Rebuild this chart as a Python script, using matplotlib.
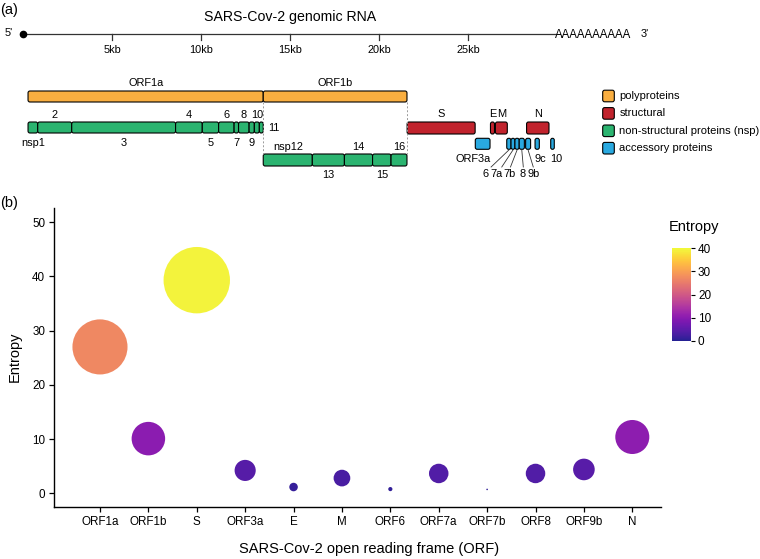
#Bibliotecas
import matplotlib.pyplot as plt
import matplotlib.transforms as mtransforms
from matplotlib.patches import FancyBboxPatch
from matplotlib.colors import Normalize
import numpy as np

plt.rcParams['font.family'] = ['Liberation Sans', 'DejaVu Sans']

W, H = 760, 559
X0 = 23.3     # coluna (px) da posicao 0 do genoma
PPK = 17.8    # px por kb

#Dados do genoma (kb)
genome_len = 29.903
genome_ticks = [5, 10, 15, 20, 25]

poly_names = ['ORF1a', 'ORF1b']
poly_bounds = [0.266, 13.48, 21.555]

nsp_a_names = ['nsp1', '2', '3', '4', '5', '6', '7', '8', '9', '10', '11']
nsp_a_bounds = [0.266, 0.81, 2.72, 8.555, 10.055, 10.973, 11.843, 12.092,
                12.686, 12.98, 13.26, 13.48]
nsp_b_names = ['nsp12', '13', '14', '15', '16']
nsp_b_bounds = [13.48, 16.237, 18.04, 19.621, 20.659, 21.555]

struct_names = ['S', 'E', 'M', 'N']
struct_start = [21.563, 26.245, 26.523, 28.274]
struct_end = [25.384, 26.472, 27.191, 29.533]

acc_names = ['ORF3a', '6', '7a', '7b', '8', '9b', '9c', '10']
acc_start = [25.393, 27.16, 27.40, 27.62, 27.86, 28.22, 28.75, 29.63]
acc_end = [26.22, 27.40, 27.62, 27.86, 28.15, 28.50, 28.99, 29.83]

#Dados de entropia
orfs = ['ORF1a', 'ORF1b', 'S', 'ORF3a', 'E', 'M', 'ORF6', 'ORF7a', 'ORF7b',
        'ORF8', 'ORF9b', 'N']
entropy = [27.0, 10.1, 39.3, 4.24, 1.18, 2.83, 0.80, 3.68, 0.74, 3.68, 4.42, 10.4]

#Cores
c_poly = '#F9AE40'
c_struct = '#C1232D'
c_nsp = '#2BB470'
c_acc = '#29A9E0'

fig = plt.figure(figsize=(W / 100, H / 100), dpi=100)
PX = mtransforms.Affine2D().scale(1 / W, -1 / H).translate(0, 1) + fig.transFigure

#Eixo do painel (a): x em kb, y em pixels
ag = fig.add_axes([0, 0, 1, 1])
ag.set_xlim(-X0 / PPK, (W - X0) / PPK)
ag.set_ylim(H, 0)
ag.axis('off')


def caixa(x0, x1, y0, h, cor):
    w = x1 - x0
    r = min(0.11, w / 2)
    ag.add_patch(FancyBboxPatch((x0, y0), w, h,
                                boxstyle=f'round,pad=0,rounding_size={r}',
                                mutation_aspect=PPK, fc=cor, ec='black', lw=0.8))


fs = 7.9
#Linha do genoma
ag.plot([0, genome_len], [34, 34], color='#333333', lw=0.9)
ag.plot([0], [34], 'o', color='black', ms=4.5)
for t in genome_ticks:
    ag.plot([t, t], [34, 40], color='#333333', lw=0.9)
    ag.text(t, 50, f'{t}kb', ha='center', va='center', fontsize=fs)
ag.text(15, 17, 'SARS-Cov-2 genomic RNA', ha='center', va='center', fontsize=10.2)
fig.text(555, 35.5, 'AAAAAAAAAA', transform=PX, ha='left', va='center', fontsize=8.3)
fig.text(641, 34, "3'", transform=PX, ha='left', va='center', fontsize=fs)
fig.text(5, 33, "5'", transform=PX, ha='left', va='center', fontsize=fs)
fig.text(0, 10, '(a)', transform=PX, ha='left', va='center', fontsize=10.5)
fig.text(0, 203, '(b)', transform=PX, ha='left', va='center', fontsize=10.5)

#Poliproteinas
for i, nome in enumerate(poly_names):
    a, b = poly_bounds[i], poly_bounds[i + 1]
    caixa(a, b, 91, 11, c_poly)
    ag.text((a + b) / 2, 83, nome, ha='center', va='center', fontsize=fs)

#nsp linha 1
for i, nome in enumerate(nsp_a_names):
    a, b = nsp_a_bounds[i], nsp_a_bounds[i + 1]
    caixa(a, b, 122, 11, c_nsp)
    if nome == '11':
        ag.text(b + 0.25, 128, nome, ha='left', va='center', fontsize=fs)
    elif i % 2 == 0:
        ag.text((a + b) / 2, 143.5, nome, ha='center', va='center', fontsize=fs)
    else:
        ag.text((a + b) / 2, 114.5, nome, ha='center', va='center', fontsize=fs)

#nsp linha 2
for i, nome in enumerate(nsp_b_names):
    a, b = nsp_b_bounds[i], nsp_b_bounds[i + 1]
    caixa(a, b, 154, 12, c_nsp)
    y = 147 if i % 2 == 0 else 175
    ag.text((a + b) / 2, y, nome, ha='center', va='center', fontsize=fs)

#Linhas tracejadas
for xv in [poly_bounds[1], poly_bounds[2]]:
    ag.plot([xv, xv], [102, 154], color='#9a9a9a', lw=0.7, ls=(0, (2, 2)))

#Estruturais
for nome, a, b in zip(struct_names, struct_start, struct_end):
    caixa(a, b, 122, 12, c_struct)
    ag.text((a + b) / 2, 114, nome, ha='center', va='center', fontsize=fs)

#Acessorias
label_x = {'6': 25.99, '7a': 26.6, '7b': 27.34, '8': 28.06, '9b': 28.69}
line_x = {'6': 26.28, '7a': 26.88, '7b': 27.37, '8': 28.09, '9b': 28.65}
for nome, a, b in zip(acc_names, acc_start, acc_end):
    caixa(a, b, 138.3, 11, c_acc)
    if nome == 'ORF3a':
        ag.text(b + 0.05, 159, nome, ha='right', va='center', fontsize=fs)
    elif nome in ('9c', '10'):
        ag.text(a - 0.05, 158.5, nome, ha='left', va='center', fontsize=fs)
    else:
        ag.plot([(a + b) / 2, line_x[nome]], [150, 167], color='#333333', lw=0.6)
        ag.text(label_x[nome], 174, nome, ha='center', va='center', fontsize=fs)

#Legenda
leg_names = ['polyproteins', 'structural', 'non-structural proteins (nsp)',
             'accessory proteins']
leg_cols = [c_poly, c_struct, c_nsp, c_acc]
ap = fig.add_axes([0, 0, 1, 1])
ap.set_xlim(0, W)
ap.set_ylim(H, 0)
ap.axis('off')
for k, (nome, cor) in enumerate(zip(leg_names, leg_cols)):
    yc = 96 + k * 17.4
    ap.add_patch(FancyBboxPatch((602.7, yc - 5.8), 11.6, 11.6,
                                boxstyle='round,pad=0,rounding_size=2',
                                fc=cor, ec='black', lw=0.8))
    ap.text(619.3, yc, nome, ha='left', va='center', fontsize=8)

#Painel (b)
ax = fig.add_axes([54.3 / W, (H - 507) / H, (661 - 54.3) / W, (507 - 208) / H])
xpos = np.arange(1, len(orfs) + 1)
e = np.array(entropy)
r_px = 0.8 + (33.2 - 0.8) * np.sqrt((e - e.min()) / (e.max() - e.min()))
tam = (2 * r_px * 0.72) ** 2
sc = ax.scatter(xpos, e, s=tam, c=e, cmap='plasma', norm=Normalize(0, 40),
                edgecolors='none', alpha=0.9, clip_on=False)
ax.set_xlim(0.056, 12.593)
ax.set_ylim(-2.5, 52.6)
ax.set_xticks(xpos)
ax.set_xticklabels(orfs)
ax.set_yticks([0, 10, 20, 30, 40, 50])
for s in ['top', 'right']:
    ax.spines[s].set_visible(False)
for s in ['left', 'bottom']:
    ax.spines[s].set_linewidth(1.0)
ax.tick_params(axis='both', length=3.6, width=0.9, labelsize=8.4, pad=3)
ax.patch.set_alpha(0)
fig.text(369, 549, 'SARS-Cov-2 open reading frame (ORF)', transform=PX,
         ha='center', va='center', fontsize=10.5)
fig.text(15, 357, 'Entropy', transform=PX, ha='center', va='center',
         fontsize=10.5, rotation=90)

#Barra de cores
cax = fig.add_axes([672.3 / W, (H - 340.7) / H, (691 - 672.3) / W, (340.7 - 248.3) / H])
cb = fig.colorbar(sc, cax=cax)
cb.outline.set_visible(False)
cb.solids.set_alpha(0.9)
cb.set_ticks([0, 10, 20, 30, 40])
cax.tick_params(length=3, width=0.8, labelsize=8.5, pad=2)
fig.text(694.5, 227, 'Entropy', transform=PX, ha='center', va='center', fontsize=10.5)

plt.savefig('out.png', dpi=100)
